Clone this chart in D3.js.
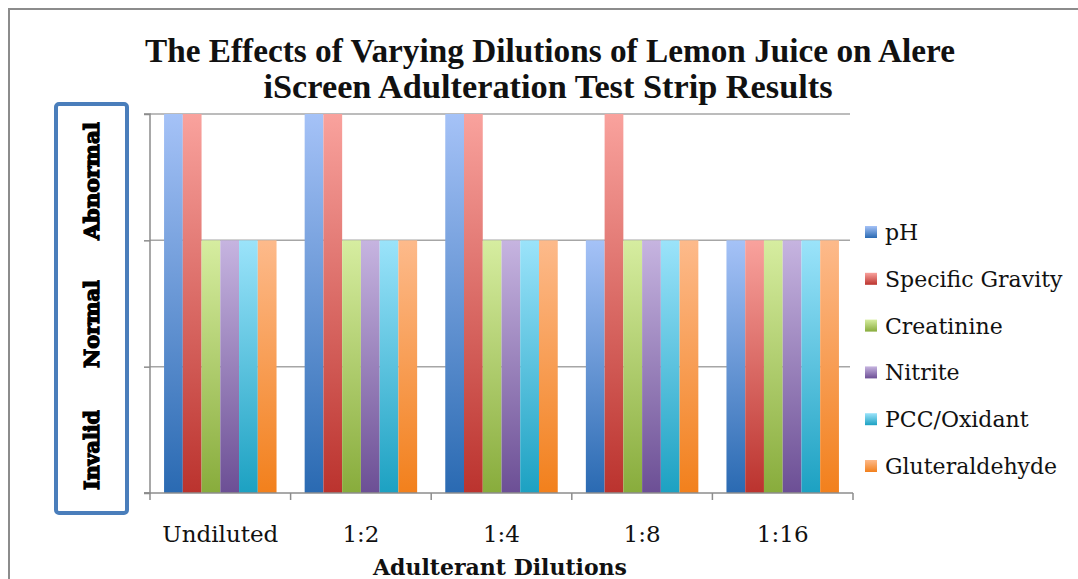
<!DOCTYPE html>
<html><head><meta charset="utf-8">
<script src="https://cdn.jsdelivr.net/npm/d3@7"></script>
<style>body{margin:0;background:#fff;} svg{display:block;}</style>
</head><body>
<script>
const categories = ["Undiluted", "1:2", "1:4", "1:8", "1:16"];
const seriesNames = ["pH", "Specific Gravity", "Creatinine", "Nitrite", "PCC/Oxidant", "Gluteraldehyde"];
// 1 = Invalid, 2 = Normal, 3 = Abnormal (bar reaches top of band)
const pH = [3, 3, 3, 2, 2];
const specificGravity = [3, 3, 3, 3, 2];
const creatinine = [2, 2, 2, 2, 2];
const nitrite = [2, 2, 2, 2, 2];
const pccOxidant = [2, 2, 2, 2, 2];
const gluteraldehyde = [2, 2, 2, 2, 2];
const yLevelLabels = ["Invalid", "Normal", "Abnormal"];
const seriesValues = [pH, specificGravity, creatinine, nitrite, pccOxidant, gluteraldehyde];
const colorsTop = ["#a5c2f7", "#f9a29d", "#d6eda0", "#c6b4e0", "#9be3fa", "#fdba8b"];
const colorsBottom = ["#2a6ab2", "#bb332e", "#88ac3c", "#6c4f95", "#1ca1c2", "#f2801c"];

const W = 1078, H = 579;
const svg = d3.select("body").append("svg").attr("width", W).attr("height", H);
const defs = svg.append("defs");
seriesNames.forEach((s, i) => {
  const g = defs.append("linearGradient").attr("id", "g" + i).attr("x1", 0).attr("y1", 0).attr("x2", 0).attr("y2", 1);
  g.append("stop").attr("offset", "0%").attr("stop-color", colorsTop[i]);
  g.append("stop").attr("offset", "100%").attr("stop-color", colorsBottom[i]);
});

// outer frame
svg.append("path").attr("d", "M9,579 L9,9 L1078,9").attr("fill", "none").attr("stroke", "#8c8c8c").attr("stroke-width", 2);

const pLeft = 150, pRight = 853, pTop = 114, pBottom = 493;
const x0 = d3.scaleBand().domain(categories).range([pLeft, pRight]).paddingInner(0.2).paddingOuter(0.1);
const x1 = d3.scaleBand().domain(seriesNames).range([0, x0.bandwidth()]);
const y = d3.scaleLinear().domain([0, 3]).range([pBottom, pTop]);

// gridlines
svg.append("g").selectAll("line").data([1, 2, 3]).join("line")
  .attr("x1", pLeft).attr("x2", 850).attr("y1", d => y(d)).attr("y2", d => y(d))
  .attr("stroke", "#a6a6a6").attr("stroke-width", 1.5);

// bars
const groups = svg.append("g").selectAll("g").data(categories).join("g")
  .attr("transform", d => `translate(${x0(d)},0)`);
groups.selectAll("rect").data((c, ci) => seriesNames.map((s, si) => ({s, si, v: seriesValues[si][ci]}))).join("rect")
  .attr("x", d => x1(d.s)).attr("width", x1.bandwidth())
  .attr("y", d => y(d.v)).attr("height", d => y(0) - y(d.v))
  .attr("fill", d => `url(#g${d.si})`);

// axes
const yAxis = svg.append("g").attr("transform", `translate(${pLeft},0)`)
  .call(d3.axisLeft(y).tickValues([0, 1, 2, 3]).tickSize(6).tickFormat(""));
yAxis.select(".domain").attr("stroke", "#8c8c8c").attr("stroke-width", 1.5).attr("d", `M-6,${pTop}H0V${pBottom}H-6`);
yAxis.selectAll(".tick line").attr("stroke", "#8c8c8c").attr("stroke-width", 1.5);

const xb = svg.append("g").attr("transform", `translate(0,${pBottom})`);
xb.append("line").attr("x1", pLeft - 6).attr("x2", pRight).attr("stroke", "#8c8c8c").attr("stroke-width", 1.5);
const bounds = categories.map(c => x0(c) - x0.step() * x0.paddingInner() / 2).concat([pRight]);
xb.selectAll("line.tk").data(bounds).join("line").attr("class", "tk")
  .attr("x1", d => d).attr("x2", d => d).attr("y1", 0).attr("y2", 7)
  .attr("stroke", "#8c8c8c").attr("stroke-width", 1.5);
xb.selectAll("text").data(categories).join("text")
  .attr("x", d => x0(d) + x0.bandwidth() / 2).attr("y", 49)
  .attr("text-anchor", "middle").attr("font-family", "DejaVu Serif").attr("font-size", 23).attr("fill", "#111")
  .text(d => d);

// x title
svg.append("text").attr("x", 500).attr("y", 575).attr("text-anchor", "middle")
  .attr("font-family", "DejaVu Serif").attr("font-weight", "bold").attr("font-size", 22).attr("fill", "#111")
  .attr("textLength", 254).attr("lengthAdjust", "spacingAndGlyphs")
  .text("Adulterant Dilutions");

// chart title
const title = ["The Effects of Varying Dilutions of Lemon Juice on Alere", "iScreen Adulteration Test Strip Results"];
const tLen = [810, 569];
svg.append("g").selectAll("text").data(title).join("text")
  .attr("x", (d, i) => i === 0 ? 550 : 548).attr("y", (d, i) => 62 + i * 36).attr("text-anchor", "middle")
  .attr("font-family", "Liberation Serif").attr("font-weight", "bold").attr("font-size", 34).attr("fill", "#111")
  .attr("textLength", (d, i) => tLen[i]).attr("lengthAdjust", "spacingAndGlyphs")
  .text(d => d);

// y labels box
svg.append("rect").attr("x", 56).attr("y", 104).attr("width", 71).attr("height", 409).attr("rx", 3)
  .attr("fill", "#fff").attr("stroke", "#4a7ebb").attr("stroke-width", 4);
const yLabelCenters = [450, 324, 181];
const yLabelLens = [80, 88, 118];
svg.append("g").selectAll("text").data(yLevelLabels).join("text")
  .attr("transform", (d, i) => `translate(99,${yLabelCenters[i]}) rotate(-90)`)
  .attr("text-anchor", "middle").attr("font-family", "DejaVu Serif").attr("font-weight", "bold")
  .attr("font-size", 21).attr("fill", "#000").attr("stroke", "#000").attr("stroke-width", 1.3)
  .attr("textLength", (d, i) => yLabelLens[i]).attr("lengthAdjust", "spacingAndGlyphs")
  .text(d => d);

// legend
const lg = svg.append("g").selectAll("g").data(seriesNames).join("g")
  .attr("transform", (d, i) => `translate(865,${232 + i * 46.8})`);
lg.append("rect").attr("x", 0).attr("y", -6).attr("width", 12).attr("height", 12).attr("fill", (d, i) => `url(#g${i})`);
lg.append("text").attr("x", 20).attr("y", 8).attr("font-family", "DejaVu Serif").attr("font-size", 22).attr("fill", "#111")
  .text(d => d);
</script>
</body></html>
